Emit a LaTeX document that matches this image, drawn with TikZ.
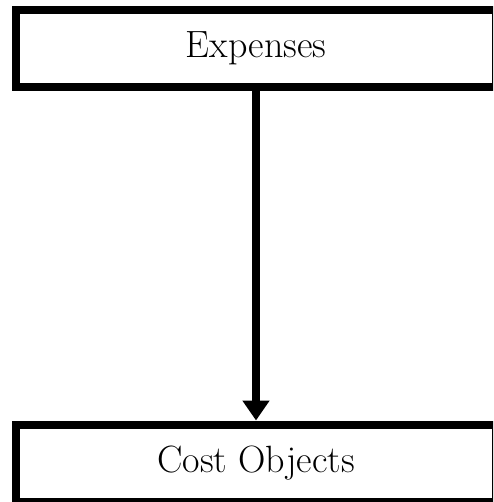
\documentclass[tikz,border=0pt]{standalone}
\usetikzlibrary{arrows.meta}
\begin{document}
\begin{tikzpicture}[x=1pt,y=-1pt,
	costbox/.style={draw,line width=8pt,minimum width=480pt,minimum height=77pt,
	inner sep=0pt,font=\fontsize{38}{44}\selectfont},
	flow/.style={line width=8pt,-{Triangle[width=26pt,length=20pt]}}]
	\useasboundingbox (0,0) rectangle (493,502);
	\clip (0,0) rectangle (493,502);
	\node[costbox] (exp) at (256,48.5) {Expenses};
	\node[costbox] (cost) at (256,463) {Cost Objects};
	\draw[flow] (exp.south) -- (cost.north);
\end{tikzpicture}
\end{document}
